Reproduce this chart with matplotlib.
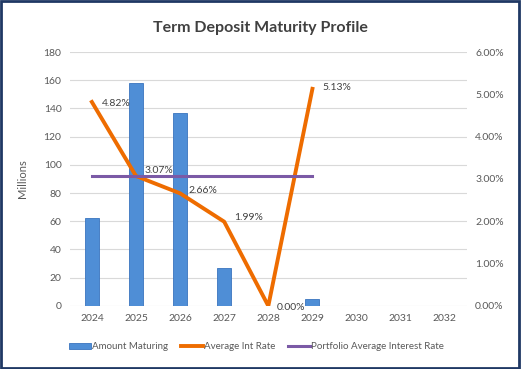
import matplotlib.pyplot as plt
from matplotlib.patches import Rectangle
from matplotlib.ticker import FuncFormatter

years = ["2024", "2025", "2026", "2027", "2028", "2029", "2030", "2031", "2032"]
amount = [62, 158, 137, 27, 0, 5]
avg_rate = [4.82, 3.07, 2.66, 1.99, 0.00, 5.13]
portfolio_rate = [3.07] * 6
rate_labels = ["4.82%", "3.07%", "2.66%", "1.99%", "0.00%", "5.13%"]

plt.rcParams["font.family"] = ["Lato", "DejaVu Sans"]
txt = "#595959"

fig = plt.figure(figsize=(5.21, 3.69), dpi=100)
fig.patches.append(Rectangle((0.002, 0.003), 0.995, 0.993, transform=fig.transFigure,
                             fill=False, edgecolor="#1F3864", linewidth=2))
ax = fig.add_axes([0.134, 0.171, 0.762, 0.688])
ax2 = ax.twinx()

x = list(range(len(years)))
bars = ax.bar(x[:len(amount)], amount, width=0.32, color="#4F8ED6", edgecolor="#3A74BE",
              linewidth=0.6, label="Amount Maturing", zorder=2)
ax.set_xlim(-0.5, len(years) - 0.5)
ax.set_ylim(0, 180)
ax.set_yticks(range(0, 181, 20))
ax.set_xticks(x)
ax.set_xticklabels(years)
ax.grid(axis="y", color="#D9D9D9", linewidth=0.8, zorder=0)
ax.set_axisbelow(True)
ax.set_ylabel("Millions", color=txt, fontsize=8, labelpad=11)

l1, = ax2.plot(x[:len(avg_rate)], avg_rate, color="#EE6C00", linewidth=2.8,
               label="Average Int Rate", zorder=3)
l2, = ax2.plot(x[:len(portfolio_rate)], portfolio_rate, color="#7B5AA6", linewidth=2.2,
               label="Portfolio Average Interest Rate", zorder=3)
ax2.set_ylim(0, 6)
ax2.set_yticks(range(0, 7))
ax2.yaxis.set_major_formatter(FuncFormatter(lambda v, p: f"{v:.2f}%"))

offsets = [(7, -1), (6, 4), (6, 2), (7, 3), (6, -1), (7, 1)]
for xi, yi, lab, off in zip(x, avg_rate, rate_labels, offsets):
    ax2.annotate(lab, (xi, yi), xytext=off, textcoords="offset points",
                 fontsize=7.5, color="#404040", va="center", ha="left")

for a in (ax, ax2):
    for s in a.spines.values():
        s.set_visible(False)
    a.tick_params(length=0, labelsize=7.5, labelcolor=txt, pad=6)

fig.text(0.5, 0.925, "Term Deposit Maturity Profile", ha="center", va="center",
         fontsize=11.5, fontweight="bold", color="#404040")

handles = [bars, l1, l2]
labels = ["Amount Maturing", "Average Int Rate", "Portfolio Average Interest Rate"]
fig.legend(handles, labels, loc="center", ncol=3,
           bbox_to_anchor=(0.492, 0.06), frameon=False, fontsize=7,
           labelcolor=txt, handlelength=2.3, handleheight=0.5,
           handletextpad=0.1, columnspacing=1.3)

fig.savefig("out.png", dpi=100)
